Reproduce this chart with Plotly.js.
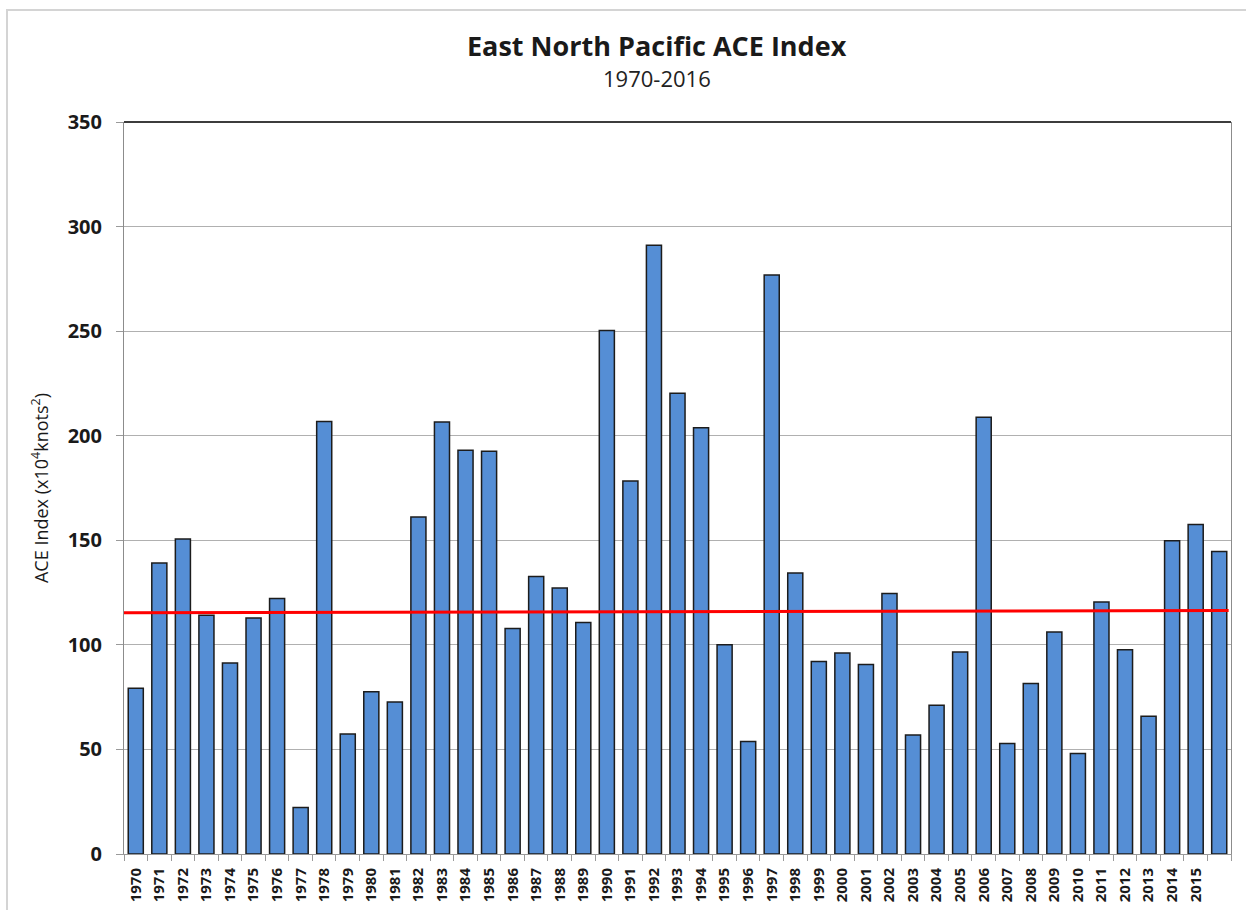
<!DOCTYPE html>
<html>
<head>
<meta charset="utf-8">
<script src="https://cdn.plot.ly/plotly-3.0.1.min.js"></script>
<style>
  html, body { margin: 0; padding: 0; background: #ffffff; }
  #wrap { position: relative; width: 1246px; height: 910px; overflow: hidden; }
  #chart { width: 1246px; height: 910px; }
  #frame { position: absolute; left: 6px; top: 9px; width: 1260px; height: 920px;
           border: 2px solid #d4d4d4; pointer-events: none; }
</style>
</head>
<body>
<div id="wrap">
  <div id="chart"></div>
  <div id="frame"></div>
</div>
<script>
// ---- data ----
const years = [1970,1971,1972,1973,1974,1975,1976,1977,1978,1979,
               1980,1981,1982,1983,1984,1985,1986,1987,1988,1989,
               1990,1991,1992,1993,1994,1995,1996,1997,1998,1999,
               2000,2001,2002,2003,2004,2005,2006,2007,2008,2009,
               2010,2011,2012,2013,2014,2015,2016];
const aceValues = [79.3,139.1,150.6,114.2,91.3,112.8,122.2,22.2,206.8,57.4,
                   77.6,72.7,161.1,206.5,193.1,192.6,107.8,132.7,127.2,110.7,
                   250.3,178.3,291.1,220.3,203.8,100.1,53.8,276.8,134.3,92.0,
                   96.1,90.6,124.6,56.9,71.1,96.6,208.8,52.8,81.5,106.1,
                   48.1,120.5,97.7,65.9,149.8,157.5,144.6];
const tickYears = [1970,1971,1972,1973,1974,1975,1976,1977,1978,1979,
                   1980,1981,1982,1983,1984,1985,1986,1987,1988,1989,
                   1990,1991,1992,1993,1994,1995,1996,1997,1998,1999,
                   2000,2001,2002,2003,2004,2005,2006,2007,2008,2009,
                   2010,2011,2012,2013,2014,2015];
const tickLabels = tickYears.map(String);
const trendYears = [1969.5, 2016.4];
const trendValues = [115.3, 116.4];
const yTicks = [0,50,100,150,200,250,300,350];
const chartTitle = 'East North Pacific ACE Index';
const chartSubtitle = '1970-2016';

const bars = {
  type: 'bar',
  x: years,
  y: aceValues,
  marker: { color: '#558ed5', line: { color: '#1c1c1c', width: 1.5 } },
  hoverinfo: 'x+y'
};
const trend = {
  type: 'scatter',
  mode: 'lines',
  x: trendYears,
  y: trendValues,
  line: { color: '#ff0000', width: 3 },
  hoverinfo: 'skip'
};

const font = "'Open Sans', 'DejaVu Sans', sans-serif";

const layout = {
  width: 1246,
  height: 910,
  margin: { l: 124, r: 15, t: 122, b: 56 },
  paper_bgcolor: '#ffffff',
  plot_bgcolor: '#ffffff',
  showlegend: false,
  bargap: 0.36,
  font: { family: font, color: '#1a1a1a' },
  annotations: [
    { text: '<b>' + chartTitle + '</b>', xref: 'paper', yref: 'paper', x: 0.4815, y: 1.105,
      xanchor: 'center', yanchor: 'middle', showarrow: false,
      font: { family: font, size: 27, color: '#1a1a1a' } },
    { text: chartSubtitle, xref: 'paper', yref: 'paper', x: 0.4815, y: 1.060,
      xanchor: 'center', yanchor: 'middle', showarrow: false,
      font: { family: font, size: 22, color: '#222222' } }
  ],
  xaxis: {
    type: 'linear',
    range: [1969.5, 2016.5],
    tickmode: 'array',
    tickvals: tickYears,
    ticktext: tickLabels,
    tickangle: -90,
    ticks: '',
    ticklabelstandoff: 7,
    tickfont: { family: font, size: 15, color: '#1a1a1a', weight: 'bold' },
    showgrid: false,
    zeroline: false,
    showline: true,
    linecolor: '#9a9a9a',
    linewidth: 1,
    minor: { tickmode: 'linear', tick0: 1969.5, dtick: 1, ticks: 'outside', ticklen: 6, tickcolor: '#9a9a9a', tickwidth: 1, showgrid: false },
    fixedrange: true
  },
  yaxis: {
    range: [0, 350],
    tickmode: 'array',
    tickvals: yTicks,
    ticktext: yTicks.map(String),
    ticks: 'outside',
    ticklen: 7,
    tickcolor: '#9a9a9a',
    ticklabelstandoff: 10,
    tickfont: { family: font, size: 20, color: '#1a1a1a', weight: 'bold' },
    showgrid: true,
    gridcolor: '#b0b0b0',
    gridwidth: 1,
    zeroline: false,
    showline: true,
    mirror: true,
    linecolor: '#8c8c8c',
    linewidth: 1,
    title: { text: 'ACE Index (x10<sup>4</sup>knots<sup>2</sup>)', font: { family: font, size: 18, color: '#1a1a1a' }, standoff: 14 },
    fixedrange: true
  },
  shapes: [
    { type: 'line', xref: 'paper', yref: 'paper', x0: 0, x1: 1, y0: 1, y1: 1, line: { color: '#3c3c3c', width: 2 } }
  ]
};

Plotly.newPlot('chart', [bars, trend], layout, { displayModeBar: false, staticPlot: true });
</script>
</body>
</html>
